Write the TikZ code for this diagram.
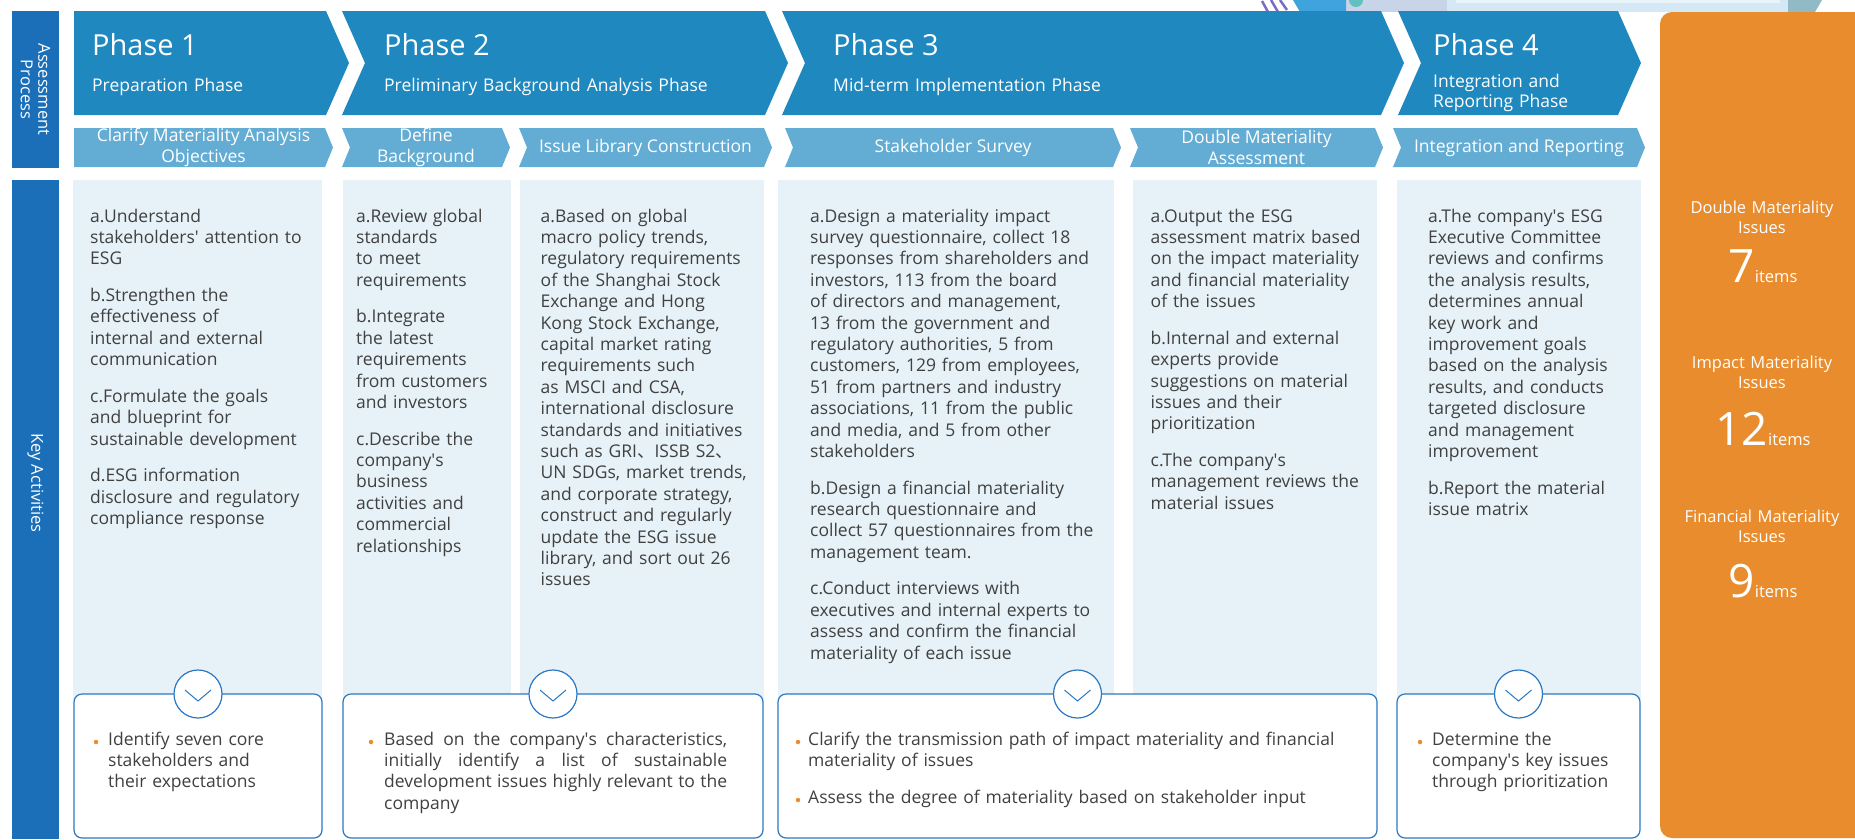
\documentclass[tikz,border=0pt]{standalone}
\usepackage{fontspec}
\setmainfont{Open Sans}
\newfontfamily\cjk{Noto Sans CJK SC}
\usetikzlibrary{positioning}

\definecolor{phaseblue}{HTML}{1E88BF}
\definecolor{stepblue}{HTML}{63ACD4}
\definecolor{sideblue}{HTML}{1B6FB8}
\definecolor{panelblue}{HTML}{E6F2F8}
\definecolor{sumorange}{HTML}{E88C2D}
\definecolor{ringblue}{HTML}{2A78C2}
\definecolor{textgray}{HTML}{404040}
\definecolor{decopurple}{HTML}{7D6CC4}
\definecolor{decoblue}{HTML}{3FA3DD}
\definecolor{decoteal}{HTML}{62C0C0}
\definecolor{decogray}{HTML}{C8D5E9}
\definecolor{decolight}{HTML}{D4E8F5}
\definecolor{decopale}{HTML}{E8F3FA}
\definecolor{decoslate}{HTML}{8FBAC6}

\newcommand{\nxt}{\\[15.2pt]}
\newcommand{\dun}{{\cjk 、}}
\newcommand{\q}{\textquotesingle}

\begin{document}
\begin{tikzpicture}[x=1pt,y=-1pt,
  phase/.style={fill=phaseblue},
  substep/.style={fill=stepblue},
  column/.style={fill=panelblue},
  ptitle/.style={anchor=base west,inner sep=0pt,text=white,font=\fontsize{29}{29}\selectfont},
  psub/.style={anchor=base west,inner sep=0pt,text=white,text width=400pt,align=left,font=\fontsize{17.5}{20}\selectfont},
  slabel/.style={inner sep=0pt,text=white,align=center,font=\fontsize{17.5}{20.5}\selectfont},
  side/.style={inner sep=0pt,text=white,align=center,rotate=-90,font=\fontsize{16.5}{17.5}\selectfont},
  body/.style={anchor=base west,inner sep=0pt,text width=330pt,align=left,text=textgray,font=\fontsize{17.5}{21.4}\selectfont},
  result/.style={draw=ringblue,line width=1.2pt,fill=white,rounded corners=8pt},
  ring/.style={circle,draw=ringblue,line width=1.2pt,fill=white,minimum size=48pt,inner sep=0pt},
  bulletdot/.style={circle,fill=sumorange,minimum size=4.5pt,inner sep=0pt},
  sumlabel/.style={anchor=base,inner sep=0pt,text=white,text width=190pt,align=center,font=\fontsize{16.5}{20.5}\selectfont},
  sumcount/.style={anchor=base,inner sep=0pt,text=white}
]
\useasboundingbox (0,0) rectangle (1855,839);
\clip (0,0) rectangle (1855,839);
%
\fill[decogray] (1346,0) rectangle (1447,12);
\fill[decolight] (1447,0) rectangle (1788,12);
\fill[decopale] (1456,0) rectangle (1780,3);
\fill[decoslate] (1788,0) -- (1822,0) -- (1815,12) -- (1788,12) -- cycle;
\fill[decoblue] (1293,0) -- (1346,0) -- (1346,12) -- (1300,12) -- cycle;
\fill[decoteal] (1356,0) circle[radius=7];
\draw[decopurple,line width=2.5pt] (1262,1)--(1268,12) (1271,0)--(1278,12) (1280,0)--(1287,10);
%
\fill[sideblue] (12,11) rectangle (59,168);
\fill[sideblue] (12,180) rectangle (59,839);
\node[side] (assess) at (35.5,89.5) {Assessment\\Process};
\node[side] (keyact) at (35.5,483) {Key Activities};
%
\fill[phase] (74,11) -- (326,11) -- (349,63) -- (326,115) -- (74,115) -- cycle;
\fill[phase] (342,11) -- (765,11) -- (788,63) -- (765,115) -- (342,115) -- (365,63) -- cycle;
\fill[phase] (782,11) -- (1381,11) -- (1404,63) -- (1381,115) -- (782,115) -- (805,63) -- cycle;
\fill[phase] (1398,11) -- (1618,11) -- (1641,63) -- (1618,115) -- (1398,115) -- (1421,63) -- cycle;
\node[ptitle] (ph1) at (92,55) {Phase 1};
\node[psub] (ph1sub) at (92,91) {Preparation Phase};
\node[ptitle] (ph2) at (384,55) {Phase 2};
\node[psub] (ph2sub) at (384,91) {Preliminary Background Analysis Phase};
\node[ptitle] (ph3) at (833,55) {Phase 3};
\node[psub] (ph3sub) at (833,91) {Mid-term Implementation Phase};
\node[ptitle] (ph4) at (1433,55) {Phase 4};
\node[psub,text width=180pt] (ph4sub) at (1433,87) {Integration and\\Reporting Phase};
%
\fill[substep] (74,128) -- (325,128) -- (333,147.5) -- (325,167) -- (74,167) -- cycle;
\fill[substep] (342,128) -- (502,128) -- (510,147.5) -- (502,167) -- (342,167) -- (350,147.5) -- cycle;
\fill[substep] (519,128) -- (764,128) -- (772,147.5) -- (764,167) -- (519,167) -- (527,147.5) -- cycle;
\fill[substep] (785,128) -- (1113,128) -- (1121,147.5) -- (1113,167) -- (785,167) -- (793,147.5) -- cycle;
\fill[substep] (1130,128) -- (1375,128) -- (1383,147.5) -- (1375,167) -- (1130,167) -- (1138,147.5) -- cycle;
\fill[substep] (1393,128) -- (1637,128) -- (1645,147.5) -- (1637,167) -- (1393,167) -- (1401,147.5) -- cycle;
\node[slabel] (st1) at (203.5,147.5) {Clarify Materiality Analysis\\Objectives};
\node[slabel] (st2) at (426,147.5) {Define\\Background};
\node[slabel] (st3) at (645.5,147.5) {Issue Library Construction};
\node[slabel] (st4) at (953,147.5) {Stakeholder Survey};
\node[slabel] (st5) at (1256.5,147.5) {Double Materiality\\Assessment};
\node[slabel] (st6) at (1519,147.5) {Integration and Reporting};
%
\fill[column] (73,180) rectangle (322,700);
\fill[column] (343,180) rectangle (511,700);
\fill[column] (520,180) rectangle (764,700);
\fill[column] (778,180) rectangle (1114,700);
\fill[column] (1133,180) rectangle (1377,700);
\fill[column] (1397,180) rectangle (1641,700);
%
\node[body] (act1) at (90,222) {a.Understand\\stakeholders\q{} attention to\\ESG\nxt
b.Strengthen the\\effectiveness of\\internal and external\\communication\nxt
c.Formulate the goals\\and blueprint for\\sustainable development\nxt
d.ESG information\\disclosure and regulatory\\compliance response};
\node[body] (act2) at (356,222) {a.Review global\\standards\\to meet\\requirements\nxt
b.Integrate\\the latest\\requirements\\from customers\\and investors\nxt
c.Describe the\\company\q s\\business\\activities and\\commercial\\relationships};
\node[body] (act3) at (540.5,222) {a.Based on global\\macro policy trends,\\regulatory requirements\\of the Shanghai Stock\\Exchange and Hong\\Kong Stock Exchange,\\capital market rating\\requirements such\\as MSCI and CSA,\\international disclosure\\standards and initiatives\\such as GRI\dun ISSB S2\dun\\UN SDGs, market trends,\\and corporate strategy,\\construct and regularly\\update the ESG issue\\library, and sort out 26\\issues};
\node[body] (act4) at (810,222) {a.Design a materiality impact\\survey questionnaire, collect 18\\responses from shareholders and\\investors, 113 from the board\\of directors and management,\\13 from the government and\\regulatory authorities, 5 from\\customers, 129 from employees,\\51 from partners and industry\\associations, 11 from the public\\and media, and 5 from other\\stakeholders\nxt
b.Design a financial materiality\\research questionnaire and\\collect 57 questionnaires from the\\management team.\nxt
c.Conduct interviews with\\executives and internal experts to\\assess and confirm the financial\\materiality of each issue};
\node[body] (act5) at (1150.5,222) {a.Output the ESG\\assessment matrix based\\on the impact materiality\\and financial materiality\\of the issues\nxt
b.Internal and external\\experts provide\\suggestions on material\\issues and their\\prioritization\nxt
c.The company\q s\\management reviews the\\material issues};
\node[body] (act6) at (1428,222) {a.The company\q s ESG\\Executive Committee\\reviews and confirms\\the analysis results,\\determines annual\\key work and\\improvement goals\\based on the analysis\\results, and conducts\\targeted disclosure\\and management\\improvement\nxt
b.Report the material\\issue matrix};
%
\draw[result] (74,694) rectangle (322,838);
\draw[result] (343,694) rectangle (763,838);
\draw[result] (778,694) rectangle (1377,838);
\draw[result] (1397,694) rectangle (1640,838);
\node[ring] (tog1) at (198,694) {};
\node[ring] (tog2) at (553,694) {};
\node[ring] (tog3) at (1077.5,694) {};
\node[ring] (tog4) at (1518.5,694) {};
\foreach \t in {tog1,tog2,tog3,tog4}
  \draw[ringblue,line width=1pt] (\t.center) ++(-13,-4) -- ++(13,11) -- ++(13,-11);
%
\node[bulletdot] (dot1) at (96,742) {};
\node[body] (out1) at (108,745) {Identify seven core\\stakeholders and\\their expectations};
\node[bulletdot] (dot2) at (371,742) {};
\node[body,text width=343pt,align=justify] (out2) at (384,745) {Based on the company\q s characteristics,\linebreak initially identify a list of sustainable\linebreak development issues highly relevant to the\linebreak company};
\node[bulletdot] (dot3) at (798,742) {};
\node[body,text width=560pt] (out3) at (808,745) {Clarify the transmission path of impact materiality and financial\\materiality of issues};
\node[bulletdot] (dot4) at (798,800) {};
\node[body,text width=560pt] (out4) at (808,803) {Assess the degree of materiality based on stakeholder input};
\node[bulletdot] (dot5) at (1420,742) {};
\node[body] (out5) at (1432,745) {Determine the\\company\q s key issues\\through prioritization};
%
\fill[sumorange,rounded corners=12pt] (1660,12) rectangle (1890,838);
\node[sumlabel] (dbl) at (1762,213) {Double Materiality\\Issues};
\node[sumcount] (dblnum) at (1763,282) {\fontsize{46}{46}\selectfont 7\fontsize{16.5}{18}\selectfont items};
\node[sumlabel] (imp) at (1762,368) {Impact Materiality\\Issues};
\node[sumcount] (impnum) at (1763,445) {\fontsize{46}{46}\selectfont 12\fontsize{16.5}{18}\selectfont items};
\node[sumlabel] (fin) at (1762,522) {Financial Materiality\\Issues};
\node[sumcount] (finnum) at (1763,597) {\fontsize{46}{46}\selectfont 9\fontsize{16.5}{18}\selectfont items};
\end{tikzpicture}
\end{document}
